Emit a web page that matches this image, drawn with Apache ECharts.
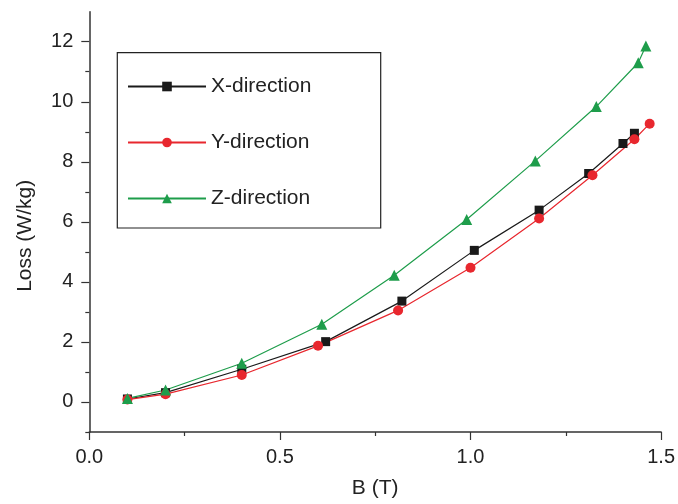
<!DOCTYPE html>
<html>
<head>
<meta charset="utf-8">
<script src="https://cdn.jsdelivr.net/npm/echarts@6/dist/echarts.min.js"></script>
<style>
  html, body { margin: 0; padding: 0; background: #fff; }
  #chart { width: 678px; height: 504px; }
</style>
</head>
<body>
<div id="chart"></div>
<script>
// values
const seriesNames = ['X-direction', 'Y-direction', 'Z-direction'];
const bX = [0.10, 0.20, 0.40, 0.62, 0.82, 1.01, 1.18, 1.31, 1.40, 1.43];
const lossX = [0.10, 0.31, 1.09, 2.01, 3.36, 5.05, 6.39, 7.61, 8.61, 8.95];
const bY = [0.10, 0.20, 0.40, 0.60, 0.81, 1.00, 1.18, 1.32, 1.43, 1.47];
const lossY = [0.08, 0.26, 0.90, 1.87, 3.05, 4.47, 6.11, 7.55, 8.75, 9.27];
const bZ = [0.10, 0.20, 0.40, 0.61, 0.80, 0.99, 1.17, 1.33, 1.44, 1.46];
const lossZ = [0.12, 0.40, 1.29, 2.59, 4.22, 6.08, 8.03, 9.84, 11.30, 11.86];
const xTicks = [0, 0.5, 1.0, 1.5];
const yTicks = [0, 2, 4, 6, 8, 10, 12];
const yMinorTicks = [-1, 1, 3, 5, 7, 9, 11];

const font = '"Liberation Sans", Arial, sans-serif';
const ink = '#222';
const axisInk = '#333';

const pairs = (xs, ys) => xs.map((x, i) => [x, ys[i]]);

let chart = echarts.init(document.getElementById('chart'), null, { renderer: 'canvas' });

let lineSeries = (name, xs, ys, color, symbol, size) => ({
  name: name,
  type: 'line',
  data: pairs(xs, ys),
  symbol: symbol,
  symbolSize: size,
  itemStyle: { color: color },
  lineStyle: { color: color, width: 1.2 },
  emphasis: { disabled: true },
  z: 3
});

let option = {
  animation: false,
  textStyle: { fontFamily: font },
  grid: { left: 89.3, right: 16.7, top: 11.7, bottom: 71.7 },
  legend: {
    orient: 'vertical',
    left: 122,
    top: 71,
    itemWidth: 78,
    itemHeight: 12,
    itemGap: 35,
    textStyle: { fontSize: 21, color: ink, fontFamily: font },
    data: seriesNames
  },
  graphic: [{
    type: 'rect',
    shape: { x: 117.3, y: 52.7, width: 263.4, height: 175.3 },
    style: { fill: 'none', stroke: ink, lineWidth: 1.2 },
    z: 10
  }],
  xAxis: {
    type: 'value',
    min: 0,
    max: 1.5,
    interval: 0.5,
    name: 'B (T)',
    nameLocation: 'middle',
    nameGap: 46,
    nameTextStyle: { fontSize: 21, color: ink, fontFamily: font },
    axisLine: { onZero: false, lineStyle: { color: axisInk, width: 1.5 } },
    axisTick: { inside: false, length: 8, lineStyle: { color: axisInk, width: 1.2 }, customValues: xTicks },
    minorTick: { show: true, splitNumber: 2, length: 4, lineStyle: { color: axisInk, width: 1.2 } },
    axisLabel: {
      fontSize: 20, color: ink, margin: 15, customValues: xTicks,
      formatter: (v) => v.toFixed(1)
    },
    splitLine: { show: false }
  },
  yAxis: [{
    type: 'value',
    min: -1,
    max: 13,
    name: 'Loss (W/kg)',
    nameLocation: 'middle',
    nameGap: 54,
    nameTextStyle: { fontSize: 21, color: ink, fontFamily: font, padding: [0, 28, 0, 0] },
    axisLine: { show: true, onZero: false, lineStyle: { color: axisInk, width: 1.5 } },
    axisTick: { show: true, length: 8, lineStyle: { color: axisInk, width: 1.2 }, customValues: yTicks },
    axisLabel: { fontSize: 20, color: ink, margin: 16, customValues: yTicks },
    splitLine: { show: false }
  }, {
    // minor ticks only
    type: 'value',
    position: 'left',
    min: -1,
    max: 13,
    axisLine: { show: false, onZero: false },
    axisTick: { show: true, length: 4, lineStyle: { color: axisInk, width: 1.2 }, customValues: yMinorTicks },
    axisLabel: { show: false },
    splitLine: { show: false }
  }],
  series: [
    lineSeries(seriesNames[0], bX, lossX, '#1a1a1a', 'rect', 9),
    lineSeries(seriesNames[1], bY, lossY, '#e8272e', 'circle', 10),
    lineSeries(seriesNames[2], bZ, lossZ, '#1e9d4b', 'triangle', 11)
  ]
};

chart.setOption(option);
</script>
</body>
</html>
